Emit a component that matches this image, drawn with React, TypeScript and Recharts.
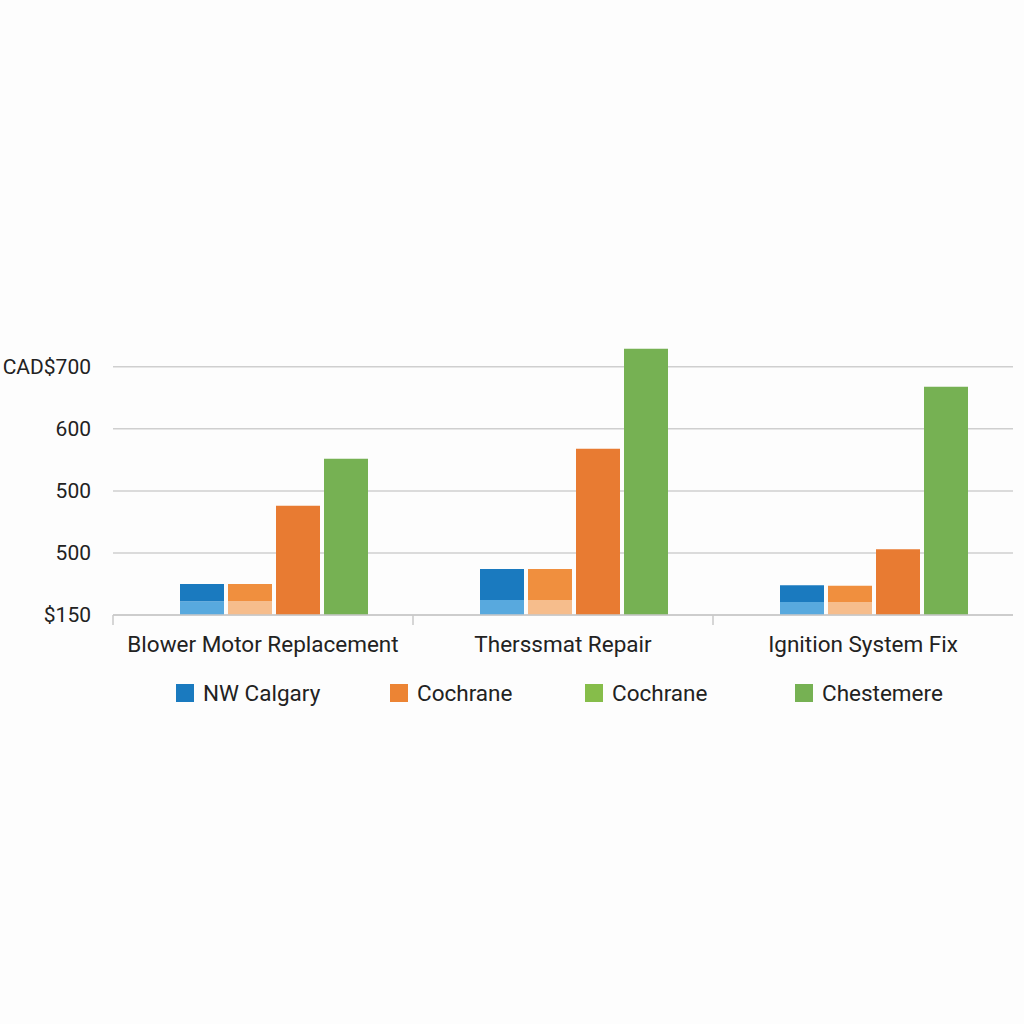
import React from "react";
import { BarChart, Bar, XAxis, YAxis, CartesianGrid } from "recharts";

const categories = ["Blower Motor Replacement", "Therssmat Repair", "Ignition System Fix"];
const spacer = [0, 0, 0];
const calgaryBase = [22, 24, 21];
const calgaryTop = [28, 50, 27];
const cochraneBase = [22, 24, 21];
const cochraneTop = [28, 50, 26];
const cochrane = [176, 268, 106];
const chestemere = [252, 429, 368];
const yTicks = [0, 100, 200, 300, 400];
const yTickLabels = ["$150", "500", "500", "600", "CAD$700"];
const legendNames = ["NW Calgary", "Cochrane", "Cochrane", "Chestemere"];
const legendColors = ["#1a7abf", "#ec8434", "#86bd4a", "#76b153"];

const data = categories.map((name, i) => ({
  name,
  spacer: spacer[i],
  calgaryBase: calgaryBase[i],
  calgaryTop: calgaryTop[i],
  cochraneBase: cochraneBase[i],
  cochraneTop: cochraneTop[i],
  cochrane: cochrane[i],
  chestemere: chestemere[i],
}));

const FONT = "Roboto, 'Noto Sans', sans-serif";
const BAND = 300;

const CategoryTick = (props: any) => {
  const { x, y, payload } = props;
  return (
    <g>
      <line x1={x - BAND / 2} x2={x - BAND / 2} y1={y - 8} y2={y + 2} stroke="#c8c8c8" strokeWidth={1.5} />
      <text x={x} y={y + 29} textAnchor="middle" fill="#222" fontSize={22.5} fontFamily={FONT}>
        {payload.value}
      </text>
    </g>
  );
};

export default function App() {
  return (
    <div style={{ position: "absolute", left: 0, top: 0, width: 1024, height: 1024, background: "#fdfdfd" }}>
      <BarChart
        width={1024}
        height={660}
        data={data}
        margin={{ top: 342, right: 11, left: 0, bottom: 0 }}
        barGap={4}
      >
        <CartesianGrid vertical={false} stroke="#cfcfcf" strokeWidth={1.5} horizontalValues={yTicks} />
        <XAxis
          dataKey="name"
          height={45}
          tickLine={false}
          axisLine={{ stroke: "#c8c8c8", strokeWidth: 1.5 }}
          tick={<CategoryTick />}
          interval={0}
        />
        <YAxis
          width={113}
          domain={[0, 440]}
          ticks={yTicks}
          axisLine={false}
          tickLine={false}
          tickSize={10}
          tickMargin={12}
          tickFormatter={(v: number) => yTickLabels[yTicks.indexOf(v)] ?? ""}
          tick={{ fill: "#222", fontSize: 21, fontFamily: FONT }}
        />
        <Bar dataKey="spacer" stackId="s" fill="transparent" barSize={18} isAnimationActive={false} />
        <Bar dataKey="calgaryBase" stackId="a" fill="#58a9de" barSize={44} isAnimationActive={false} />
        <Bar dataKey="calgaryTop" stackId="a" fill="#1a7abf" barSize={44} isAnimationActive={false} />
        <Bar dataKey="cochraneBase" stackId="b" fill="#f6bd8c" barSize={44} isAnimationActive={false} />
        <Bar dataKey="cochraneTop" stackId="b" fill="#f08f3e" barSize={44} isAnimationActive={false} />
        <Bar dataKey="cochrane" stackId="c" fill="#e87b32" barSize={44} isAnimationActive={false} />
        <Bar dataKey="chestemere" stackId="d" fill="#76b153" barSize={44} isAnimationActive={false} />
      </BarChart>
      <div style={{ position: "absolute", top: 679, left: 0, width: 1024, height: 30, fontFamily: FONT }}>
        {legendNames.map((n, i) => (
          <div
            key={i}
            style={{
              position: "absolute",
              left: [176, 390, 585, 795][i],
              top: 0,
              display: "flex",
              alignItems: "center",
              height: 28,
            }}
          >
            <span style={{ width: 18, height: 18, background: legendColors[i], display: "inline-block", marginRight: 9 }} />
            <span style={{ fontSize: 22.5, color: "#222" }}>{n}</span>
          </div>
        ))}
      </div>
    </div>
  );
}
